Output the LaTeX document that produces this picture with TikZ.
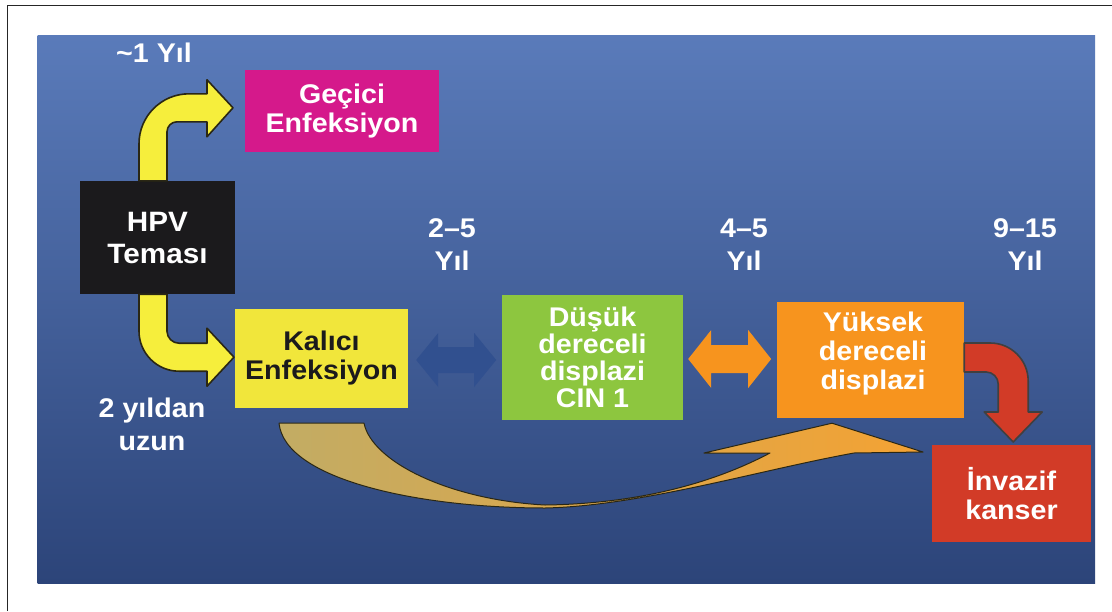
\documentclass[tikz,border=0pt]{standalone}
\usepackage{fontspec}
\setmainfont{Liberation Sans}[FakeStretch=1.06]
\usepackage{tikz}
\usetikzlibrary{positioning,calc}
\definecolor{panelTop}{HTML}{5A7BBA}
\definecolor{panelBot}{HTML}{2C4479}
\definecolor{hpvBlack}{HTML}{1B1A1C}
\definecolor{geciciPink}{HTML}{D5198B}
\definecolor{kaliciYellow}{HTML}{F1E63B}
\definecolor{arrowYellow}{HTML}{F6EE3C}
\definecolor{cinGreen}{HTML}{8DC63F}
\definecolor{hsilOrange}{HTML}{F7941E}
\definecolor{kanserRed}{HTML}{D23B27}
\definecolor{linkBlue}{HTML}{31508F}
\definecolor{curveTan}{HTML}{C2AC64}
\definecolor{curveOrange}{HTML}{F4A233}
\definecolor{edgeDark}{HTML}{2A2714}

\begin{document}
\begin{tikzpicture}[
    x=1pt, y=-1pt,
    font=\fontsize{27}{29}\selectfont\bfseries,
    box/.style={rectangle, inner sep=0pt, align=center, text=white},
    yil/.style={inner sep=0pt, align=center, text=white, font=\fontsize{27}{33}\selectfont\bfseries},
    fat/.style={draw=edgeDark, line width=1.6pt, line join=round}
]
    \useasboundingbox (0,0) rectangle (1112,611);
    \draw[line width=1pt, black!85] (7,611) -- (7,5) -- (1112,5);
    \fill[top color=panelTop, bottom color=panelBot] (37.5,35) rectangle (1095,583);

    \node[box, fill=hpvBlack, minimum width=155pt, minimum height=113pt,
          font=\fontsize{28}{32}\selectfont\bfseries] (hpv) at (157.5,237.5) {HPV\\Teması};
    \node[box, fill=geciciPink, minimum width=194pt, minimum height=82pt] (gecici) at (342,111) {Geçici\\Enfeksiyon};
    \node[box, fill=kaliciYellow, text=hpvBlack, minimum width=173pt, minimum height=99pt] (kalici) at (321.5,358.5) {Kalıcı\\Enfeksiyon};
    \node[box, fill=cinGreen, minimum width=181pt, minimum height=125pt,
          font=\fontsize{27}{27}\selectfont\bfseries] (dusuk) at (592.5,357.5) {Düşük\\dereceli\\displazi\\CIN 1};
    \node[box, fill=hsilOrange, minimum width=187pt, minimum height=116pt] (yuksek) at (870.5,360) {};
    \node[box] (yuksekText) at (873,354) {Yüksek\\dereceli\\displazi};
    \node[box, fill=kanserRed, minimum width=159pt, minimum height=97pt] (invazif) at (1011.5,493.5) {İnvazif\\kanser};

    % süreler
    \node[yil] (t1) at (154,53) {\textasciitilde1 Yıl};
    \node[yil] (t25) at (452,245) {2--5\\Yıl};
    \node[yil] (t45) at (744,245) {4--5\\Yıl};
    \node[yil] (t915) at (1025,245) {9--15\\Yıl};
    \node[yil] (uzun) at (152,424) {2 yıldan\\uzun};

    % sarı oklar
    \draw[fat, fill=arrowYellow] ($(hpv.north)+(-18.5,0)$) -- ++(0,-37)
        .. controls +(0,-27.6) and +(-27.6,0) .. ++(50,-50) -- ++(18,0) -- ++(0,-14)
        -- ++(26,28) -- ++(-26,29) -- ++(0,-15) -- ++(-30,0)
        .. controls +(-5.5,0) and +(0,-5.5) .. ++(-10,10) -- ++(0,49) -- cycle;
    \draw[fat, fill=arrowYellow] ($(hpv.south)+(-18.5,0)$) -- ++(0,37)
        .. controls +(0,22) and +(-22,0) .. ++(40,40) -- ++(28,0) -- ++(0,15)
        -- ++(27,-29) -- ++(-27,-29) -- ++(0,15) -- ++(-28,0)
        .. controls +(-6.6,0) and +(0,6.6) .. ++(-12,-12) -- ++(0,-37) -- cycle;

    % çift yönlü oklar
    \fill[linkBlue] ($(kalici.east)+(8,1.5)$) -- ++(22,-27) -- ++(0,14) -- ++(36,0) -- ++(0,-14)
        -- ++(22,27) -- ++(-22,27) -- ++(0,-14) -- ++(-36,0) -- ++(0,14) -- cycle;
    \fill[hsilOrange] ($(dusuk.east)+(5,1.5)$) -- ++(23,-29) -- ++(0,15) -- ++(37,0) -- ++(0,-15)
        -- ++(23,29) -- ++(-23,29) -- ++(0,-15) -- ++(-37,0) -- ++(0,15) -- cycle;

    % kırmızı ok
    \draw[fat, draw=black!75, fill=kanserRed] ($(yuksek.east)+(0,-17)$) -- ++(26,0)
        .. controls +(21,0) and +(0,-21) .. ++(38,38) -- ++(0,31) -- ++(14,0)
        -- ++(-29,30) -- ++(-29,-30) -- ++(14,0) -- ++(0,-28)
        .. controls +(0,-6.6) and +(6.6,0) .. ++(-12,-12) -- ++(-22,0) -- cycle;

    % büyük kavisli ok
    \draw[fat, line width=1pt, left color=curveTan, right color=curveOrange]
        ($(kalici.south)+(-42.5,15)$) .. controls (285,480) and (420,508) .. (545,508)
        .. controls (640,506) and (760,470) .. (854,453) -- (923,452)
        -- ($(yuksek.south)+(-38.5,5)$) -- (704,453) -- (770,453)
        .. controls (700,490) and (620,504) .. (545,505)
        .. controls (450,500) and (372,462) .. ($(kalici.south)+(42.5,15)$) -- cycle;
\end{tikzpicture}
\end{document}
